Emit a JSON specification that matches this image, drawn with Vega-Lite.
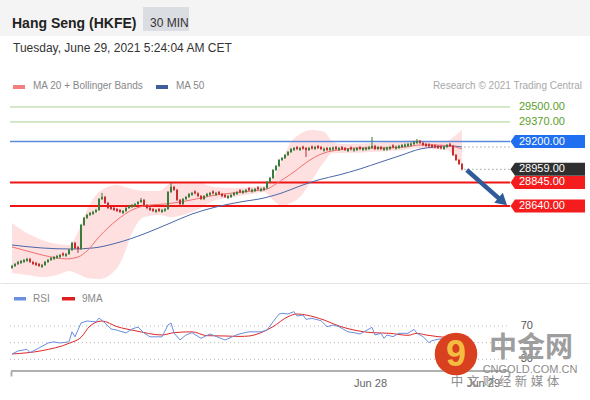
{
"$schema": "https://vega.github.io/schema/vega-lite/v6.json",
"padding": 0,
"background": "white",
"spacing": 0,
"config": {"view": {"stroke": null}, "concat": {"spacing": 0}, "font": "Liberation Sans", "scale": {"continuousPadding": 0}},
"datasets": {
"candles": [
{"i":0,"o":28104,"h":28130,"l":28095,"c":28120},{"i":1,"o":28120,"h":28146,"l":28111,"c":28137},{"i":2,"o":28137,"h":28164,"l":28128,"c":28155},{"i":3,"o":28146,"h":28172,"l":28137,"c":28163},{"i":4,"o":28155,"h":28181,"l":28146,"c":28172},{"i":5,"o":28164,"h":28190,"l":28155,"c":28181},{"i":6,"o":28181,"h":28190,"l":28146,"c":28155},{"i":7,"o":28155,"h":28164,"l":28128,"c":28137},{"i":8,"o":28146,"h":28155,"l":28120,"c":28129},{"i":9,"o":28137,"h":28146,"l":28111,"c":28120},
{"i":10,"o":28112,"h":28138,"l":28103,"c":28129},{"i":11,"o":28129,"h":28164,"l":28120,"c":28155},{"i":12,"o":28155,"h":28181,"l":28146,"c":28172},{"i":13,"o":28172,"h":28198,"l":28163,"c":28189},{"i":14,"o":28181,"h":28207,"l":28172,"c":28198},{"i":15,"o":28190,"h":28216,"l":28181,"c":28207},{"i":16,"o":28198,"h":28224,"l":28189,"c":28215},{"i":17,"o":28229,"h":28238,"l":28203,"c":28212},{"i":18,"o":28207,"h":28233,"l":28198,"c":28224},{"i":19,"o":28224,"h":28268,"l":28215,"c":28259},
{"i":20,"o":28259,"h":28330,"l":28250,"c":28320},{"i":21,"o":28320,"h":28329,"l":28267,"c":28276},{"i":22,"o":28284,"h":28293,"l":28233,"c":28267},{"i":23,"o":28267,"h":28485,"l":28258,"c":28476},{"i":24,"o":28476,"h":28546,"l":28467,"c":28537},{"i":25,"o":28537,"h":28572,"l":28528,"c":28563},{"i":26,"o":28563,"h":28589,"l":28554,"c":28580},{"i":27,"o":28572,"h":28598,"l":28563,"c":28589},{"i":28,"o":28589,"h":28615,"l":28580,"c":28606},{"i":29,"o":28606,"h":28710,"l":28597,"c":28701},
{"i":30,"o":28701,"h":28754,"l":28692,"c":28719},{"i":31,"o":28719,"h":28728,"l":28658,"c":28667},{"i":32,"o":28667,"h":28676,"l":28614,"c":28623},{"i":33,"o":28632,"h":28641,"l":28606,"c":28615},{"i":34,"o":28623,"h":28632,"l":28597,"c":28606},{"i":35,"o":28614,"h":28623,"l":28588,"c":28597},{"i":36,"o":28606,"h":28615,"l":28580,"c":28589},{"i":37,"o":28580,"h":28606,"l":28571,"c":28597},{"i":38,"o":28597,"h":28632,"l":28588,"c":28623},{"i":39,"o":28623,"h":28650,"l":28614,"c":28641},
{"i":40,"o":28632,"h":28658,"l":28623,"c":28649},{"i":41,"o":28641,"h":28667,"l":28632,"c":28658},{"i":42,"o":28658,"h":28684,"l":28649,"c":28675},{"i":43,"o":28675,"h":28710,"l":28666,"c":28693},{"i":44,"o":28693,"h":28702,"l":28640,"c":28649},{"i":45,"o":28649,"h":28658,"l":28614,"c":28623},{"i":46,"o":28623,"h":28632,"l":28597,"c":28606},{"i":47,"o":28614,"h":28623,"l":28588,"c":28597},{"i":48,"o":28589,"h":28615,"l":28580,"c":28606},{"i":49,"o":28614,"h":28623,"l":28588,"c":28597},
{"i":50,"o":28589,"h":28615,"l":28580,"c":28606},{"i":51,"o":28598,"h":28624,"l":28589,"c":28615},{"i":52,"o":28615,"h":28771,"l":28606,"c":28762},{"i":53,"o":28762,"h":28840,"l":28753,"c":28806},{"i":54,"o":28806,"h":28815,"l":28771,"c":28780},{"i":55,"o":28780,"h":28789,"l":28684,"c":28693},{"i":56,"o":28693,"h":28702,"l":28632,"c":28658},{"i":57,"o":28658,"h":28710,"l":28649,"c":28701},{"i":58,"o":28701,"h":28728,"l":28692,"c":28719},{"i":59,"o":28719,"h":28754,"l":28710,"c":28745},
{"i":60,"o":28737,"h":28763,"l":28728,"c":28754},{"i":61,"o":28767,"h":28776,"l":28741,"c":28750},{"i":62,"o":28750,"h":28759,"l":28718,"c":28727},{"i":63,"o":28727,"h":28736,"l":28692,"c":28701},{"i":64,"o":28701,"h":28736,"l":28692,"c":28727},{"i":65,"o":28727,"h":28754,"l":28718,"c":28745},{"i":66,"o":28737,"h":28763,"l":28728,"c":28754},{"i":67,"o":28767,"h":28776,"l":28741,"c":28750},{"i":68,"o":28737,"h":28763,"l":28728,"c":28754},{"i":69,"o":28762,"h":28771,"l":28736,"c":28745},
{"i":70,"o":28745,"h":28754,"l":28718,"c":28727},{"i":71,"o":28736,"h":28745,"l":28710,"c":28719},{"i":72,"o":28710,"h":28736,"l":28701,"c":28727},{"i":73,"o":28719,"h":28745,"l":28710,"c":28736},{"i":74,"o":28736,"h":28763,"l":28727,"c":28754},{"i":75,"o":28745,"h":28771,"l":28736,"c":28762},{"i":76,"o":28777,"h":28786,"l":28751,"c":28760},{"i":77,"o":28754,"h":28780,"l":28745,"c":28771},{"i":78,"o":28763,"h":28789,"l":28754,"c":28780},{"i":79,"o":28795,"h":28804,"l":28769,"c":28778},
{"i":80,"o":28765,"h":28791,"l":28756,"c":28782},{"i":81,"o":28771,"h":28797,"l":28762,"c":28788},{"i":82,"o":28803,"h":28812,"l":28777,"c":28786},{"i":83,"o":28773,"h":28799,"l":28764,"c":28790},{"i":84,"o":28780,"h":28806,"l":28771,"c":28797},{"i":85,"o":28797,"h":28858,"l":28788,"c":28849},{"i":86,"o":28849,"h":28893,"l":28840,"c":28884},{"i":87,"o":28884,"h":28962,"l":28875,"c":28953},{"i":88,"o":28953,"h":28997,"l":28944,"c":28988},{"i":89,"o":28988,"h":29049,"l":28979,"c":29040},
{"i":90,"o":29040,"h":29066,"l":29031,"c":29057},{"i":91,"o":29057,"h":29092,"l":29048,"c":29083},{"i":92,"o":29083,"h":29118,"l":29074,"c":29109},{"i":93,"o":29109,"h":29144,"l":29100,"c":29135},{"i":94,"o":29127,"h":29153,"l":29118,"c":29144},{"i":95,"o":29152,"h":29161,"l":29126,"c":29135},{"i":96,"o":29127,"h":29153,"l":29118,"c":29144},{"i":97,"o":29155,"h":29164,"l":29129,"c":29138},{"i":98,"o":29144,"h":29153,"l":29066,"c":29127},{"i":99,"o":29127,"h":29153,"l":29118,"c":29144},
{"i":100,"o":29157,"h":29166,"l":29131,"c":29140},{"i":101,"o":29136,"h":29162,"l":29127,"c":29153},{"i":102,"o":29161,"h":29170,"l":29135,"c":29144},{"i":103,"o":29152,"h":29161,"l":29126,"c":29135},{"i":104,"o":29121,"h":29147,"l":29112,"c":29138},{"i":105,"o":29144,"h":29153,"l":29118,"c":29127},{"i":106,"o":29127,"h":29153,"l":29118,"c":29144},{"i":107,"o":29130,"h":29156,"l":29121,"c":29147},{"i":108,"o":29152,"h":29161,"l":29126,"c":29135},{"i":109,"o":29127,"h":29153,"l":29118,"c":29144},
{"i":110,"o":29152,"h":29161,"l":29126,"c":29135},{"i":111,"o":29144,"h":29153,"l":29118,"c":29127},{"i":112,"o":29118,"h":29144,"l":29109,"c":29135},{"i":113,"o":29149,"h":29158,"l":29123,"c":29132},{"i":114,"o":29121,"h":29147,"l":29112,"c":29138},{"i":115,"o":29127,"h":29153,"l":29118,"c":29144},{"i":116,"o":29152,"h":29161,"l":29126,"c":29135},{"i":117,"o":29127,"h":29153,"l":29118,"c":29144},{"i":118,"o":29130,"h":29156,"l":29121,"c":29147},{"i":119,"o":29136,"h":29162,"l":29127,"c":29153},
{"i":120,"o":29145,"h":29240,"l":29136,"c":29162},{"i":121,"o":29162,"h":29171,"l":29126,"c":29135},{"i":122,"o":29135,"h":29162,"l":29126,"c":29153},{"i":123,"o":29153,"h":29162,"l":29126,"c":29135},{"i":124,"o":29127,"h":29153,"l":29118,"c":29144},{"i":125,"o":29130,"h":29156,"l":29121,"c":29147},{"i":126,"o":29136,"h":29162,"l":29127,"c":29153},{"i":127,"o":29167,"h":29176,"l":29141,"c":29150},{"i":128,"o":29139,"h":29165,"l":29130,"c":29156},{"i":129,"o":29145,"h":29171,"l":29136,"c":29162},
{"i":130,"o":29153,"h":29179,"l":29144,"c":29170},{"i":131,"o":29157,"h":29183,"l":29148,"c":29174},{"i":132,"o":29162,"h":29188,"l":29153,"c":29179},{"i":133,"o":29166,"h":29192,"l":29157,"c":29183},{"i":134,"o":29179,"h":29205,"l":29170,"c":29196},{"i":135,"o":29188,"h":29222,"l":29179,"c":29205},{"i":136,"o":29205,"h":29214,"l":29179,"c":29188},{"i":137,"o":29188,"h":29197,"l":29161,"c":29170},{"i":138,"o":29179,"h":29188,"l":29153,"c":29162},{"i":139,"o":29176,"h":29185,"l":29150,"c":29159},
{"i":140,"o":29170,"h":29179,"l":29144,"c":29153},{"i":141,"o":29167,"h":29176,"l":29141,"c":29150},{"i":142,"o":29161,"h":29170,"l":29135,"c":29144},{"i":143,"o":29158,"h":29167,"l":29132,"c":29141},{"i":144,"o":29136,"h":29162,"l":29127,"c":29153},{"i":145,"o":29153,"h":29179,"l":29144,"c":29170},{"i":146,"o":29179,"h":29188,"l":29153,"c":29162},{"i":147,"o":29162,"h":29171,"l":29074,"c":29083},{"i":148,"o":29083,"h":29092,"l":29031,"c":29040},{"i":149,"o":29040,"h":29049,"l":28996,"c":29005},
{"i":150,"o":29005,"h":29014,"l":28950,"c":28959}
],
"ma20": [{"i":0,"p":28285},{"i":5,"p":28250},{"i":10,"p":28215},{"i":15,"p":28189},{"i":18,"p":28181},{"i":22,"p":28198},{"i":25,"p":28250},{"i":29,"p":28372},{"i":35,"p":28519},{"i":40,"p":28606},{"i":46,"p":28649},{"i":51,"p":28658},{"i":56,"p":28675},{"i":63,"p":28710},{"i":68,"p":28736},{"i":74,"p":28754},{"i":80,"p":28771},{"i":85,"p":28788},{"i":88,"p":28832},{"i":91,"p":28884},{"i":94,"p":28936},{"i":97,"p":28997},{"i":101,"p":29066},{"i":105,"p":29109},{"i":109,"p":29127},{"i":115,"p":29144},{"i":123,"p":29144},{"i":131,"p":29153},{"i":136,"p":29170},{"i":141,"p":29170},{"i":146,"p":29162},{"i":150,"p":29135}],
"bb": [{"i":0,"u":28493,"d":28059},{"i":5,"u":28406,"d":28042},{"i":10,"u":28346,"d":28024},{"i":15,"u":28311,"d":28042},{"i":19,"u":28302,"d":28077},{"i":22,"u":28415,"d":28050},{"i":25,"u":28606,"d":28016},{"i":29,"u":28762,"d":28007},{"i":35,"u":28823,"d":28103},{"i":37,"u":28810,"d":28198},{"i":40,"u":28788,"d":28406},{"i":44,"u":28771,"d":28545},{"i":49,"u":28771,"d":28563},{"i":53,"u":28840,"d":28545},{"i":57,"u":28849,"d":28563},{"i":63,"u":28840,"d":28623},{"i":67,"u":28806,"d":28684},{"i":74,"u":28797,"d":28719},{"i":80,"u":28806,"d":28745},{"i":84,"u":28814,"d":28762},{"i":87,"u":28884,"d":28693},{"i":90,"u":29040,"d":28641},{"i":93,"u":29196,"d":28667},{"i":96,"u":29266,"d":28719},{"i":100,"u":29300,"d":28866},{"i":104,"u":29283,"d":29023},{"i":107,"u":29196,"d":29101},{"i":110,"u":29179,"d":29101},{"i":120,"u":29188,"d":29109},{"i":130,"u":29205,"d":29127},{"i":135,"u":29214,"d":29144},{"i":140,"u":29196,"d":29135},{"i":145,"u":29205,"d":29127},{"i":148,"u":29257,"d":29057},{"i":150,"u":29300,"d":28997}],
"ma50": [{"i":0,"p":28302},{"i":10,"p":28276},{"i":20,"p":28267},{"i":27,"p":28276},{"i":35,"p":28320},{"i":44,"p":28398},{"i":52,"p":28484},{"i":60,"p":28571},{"i":68,"p":28632},{"i":76,"p":28675},{"i":84,"p":28710},{"i":90,"p":28754},{"i":96,"p":28814},{"i":102,"p":28866},{"i":109,"p":28910},{"i":116,"p":28962},{"i":123,"p":29023},{"i":130,"p":29083},{"i":136,"p":29135},{"i":141,"p":29153},{"i":146,"p":29162},{"i":150,"p":29153}],
"levels": [{"p":29500,"lab":"29500.00","k":"res"},{"p":29370,"lab":"29370.00","k":"res"},{"p":29200,"lab":"29200.00","k":"pivot"},{"p":28959,"lab":"28959.00","k":"last"},{"p":28845,"lab":"28845.00","k":"sup"},{"p":28640,"lab":"28640.00","k":"sup"}],
"rsi": [{"i":0,"r":36.4},{"i":2,"r":40},{"i":5,"r":42},{"i":6,"r":38},{"i":9,"r":43.6},{"i":12,"r":49.6},{"i":14,"r":51},{"i":16,"r":49.6},{"i":19,"r":51},{"i":20,"r":63},{"i":21,"r":57},{"i":23,"r":73.6},{"i":25,"r":76},{"i":28,"r":75},{"i":29,"r":79.6},{"i":31,"r":73.6},{"i":33,"r":66.4},{"i":35,"r":65},{"i":38,"r":61.6},{"i":40,"r":66.4},{"i":42,"r":68.8},{"i":44,"r":61.6},{"i":46,"r":57},{"i":50,"r":57},{"i":52,"r":71.2},{"i":53,"r":73.6},{"i":54,"r":61.6},{"i":56,"r":53.2},{"i":58,"r":59.2},{"i":60,"r":62},{"i":63,"r":55.2},{"i":66,"r":60.4},{"i":71,"r":53.2},{"i":75,"r":59.5},{"i":77,"r":61.5},{"i":79,"r":63},{"i":83,"r":63},{"i":85,"r":65.2},{"i":87,"r":75},{"i":89,"r":84.4},{"i":90,"r":85.2},{"i":92,"r":84.4},{"i":94,"r":87.2},{"i":95,"r":82},{"i":97,"r":83.2},{"i":98,"r":78},{"i":100,"r":79.2},{"i":103,"r":76.4},{"i":105,"r":69.2},{"i":107,"r":71.2},{"i":109,"r":69.2},{"i":112,"r":63},{"i":114,"r":62},{"i":116,"r":60.4},{"i":118,"r":64.4},{"i":120,"r":68.4},{"i":121,"r":59.2},{"i":123,"r":61.2},{"i":124,"r":55.2},{"i":125,"r":59.2},{"i":127,"r":57.2},{"i":129,"r":61.2},{"i":132,"r":61.2},{"i":134,"r":66},{"i":135,"r":61.2},{"i":137,"r":57.2},{"i":139,"r":50},{"i":140,"r":52.4},{"i":142,"r":54},{"i":144,"r":55},{"i":146,"r":57},{"i":147,"r":42},{"i":148,"r":36},{"i":149,"r":33},{"i":150,"r":29}],
"rsima": [{"i":0,"r":36.4},{"i":10,"r":40.4},{"i":19,"r":49.2},{"i":23,"r":56.4},{"i":26,"r":70},{"i":30,"r":76},{"i":35,"r":69.2},{"i":41,"r":64.4},{"i":50,"r":59.2},{"i":54,"r":62},{"i":60,"r":63},{"i":65,"r":58.4},{"i":71,"r":58},{"i":76,"r":57.5},{"i":79,"r":58},{"i":83,"r":62},{"i":87,"r":69.2},{"i":92,"r":81.2},{"i":95,"r":84.4},{"i":98,"r":83.2},{"i":104,"r":77.2},{"i":109,"r":70},{"i":115,"r":64.4},{"i":120,"r":62},{"i":126,"r":61.2},{"i":132,"r":58.8},{"i":135,"r":61.2},{"i":138,"r":59.2},{"i":142,"r":57.2},{"i":145,"r":56},{"i":148,"r":52},{"i":150,"r":47}]
},
"vconcat": [
{
"width": 590, "height": 36,
"view": {"fill": "#f4f4f4", "stroke": null},
"data": {"values": [{}]},
"layer": [
{"mark": {"type": "rect", "x": 143, "x2": 189, "y": 7, "y2": 31, "fill": "#dadde1"}},
{"mark": {"type": "text", "x": 12, "y": 24, "text": "Hang Seng (HKFE)", "fontSize": 14, "fontWeight": "bold", "align": "left", "color": "#222222"}},
{"mark": {"type": "text", "x": 150, "y": 23, "text": "30 MIN", "fontSize": 12, "align": "left", "color": "#333333"}}
]
},
{
"width": 590, "height": 59,
"data": {"values": [{}]},
"layer": [
{"mark": {"type": "text", "x": 13, "y": 12, "baseline": "middle", "text": "Tuesday, June 29, 2021 5:24:04 AM CET", "fontSize": 12, "align": "left", "color": "#333333"}},
{"mark": {"type": "rect", "x": 13, "x2": 25, "y": 49, "y2": 53, "fill": "#f47f7f"}},
{"mark": {"type": "text", "x": 33, "y": 50, "baseline": "middle", "text": "MA 20 + Bollinger Bands", "fontSize": 10, "align": "left", "color": "#888888"}},
{"mark": {"type": "rect", "x": 156, "x2": 168, "y": 49, "y2": 53, "fill": "#3d5f9e"}},
{"mark": {"type": "text", "x": 176, "y": 50, "baseline": "middle", "text": "MA 50", "fontSize": 10, "align": "left", "color": "#888888"}},
{"mark": {"type": "text", "x": 582, "y": 50, "baseline": "middle", "text": "Research © 2021 Trading Central", "fontSize": 10, "align": "right", "color": "#a8a8a8"}}
]
},
{
"width": 590, "height": 188,
"resolve": {"axis": {"x": "independent", "y": "independent"}},
"layer": [
{"data": {"name": "bb"}, "mark": {"type": "area", "color": "#ffcccc", "opacity": 0.6, "interpolate": "monotone"},
 "encoding": {"x": {"field": "i", "type": "quantitative", "scale": {"domain": [-4, 192.667], "nice": false, "zero": false, "padding": 0}, "axis": {"labels": false, "ticks": false, "grid": false, "title": null, "domainColor": "#e4e4e4", "minExtent": 0, "maxExtent": 0}},
  "y": {"field": "u", "type": "quantitative", "scale": {"domain": [27972, 29604], "nice": false, "zero": false}, "axis": null}, "y2": {"field": "d"}}},
{"data": {"name": "levels"}, "transform": [{"filter": "datum.k == 'res'"}], "mark": {"type": "rule", "color": "#a9d18e", "strokeWidth": 1},
 "encoding": {"x": {"datum": -0.667, "type": "quantitative", "scale": {"domain": [-4, 192.667], "nice": false, "zero": false, "padding": 0}, "axis": null}, "x2": {"datum": 166},
  "y": {"field": "p", "type": "quantitative", "scale": {"domain": [27972, 29604], "nice": false, "zero": false}, "axis": null}}},
{"data": {"name": "levels"}, "transform": [{"filter": "datum.k == 'pivot'"}], "mark": {"type": "rule", "color": "#5b8bd8", "strokeWidth": 1.5},
 "encoding": {"x": {"datum": -0.667, "type": "quantitative", "scale": {"domain": [-4, 192.667], "nice": false, "zero": false, "padding": 0}, "axis": null}, "x2": {"datum": 166},
  "y": {"field": "p", "type": "quantitative", "scale": {"domain": [27972, 29604], "nice": false, "zero": false}, "axis": null}}},
{"data": {"name": "levels"}, "transform": [{"filter": "datum.k == 'sup'"}], "mark": {"type": "rule", "color": "#ee1515", "strokeWidth": 2},
 "encoding": {"x": {"datum": -0.667, "type": "quantitative", "scale": {"domain": [-4, 192.667], "nice": false, "zero": false, "padding": 0}, "axis": null}, "x2": {"datum": 166},
  "y": {"field": "p", "type": "quantitative", "scale": {"domain": [27972, 29604], "nice": false, "zero": false}, "axis": null}}},
{"data": {"values": [{"p": 28959}, {"p": 29153}]}, "mark": {"type": "rule", "color": "#777777", "strokeWidth": 1, "strokeDash": [1, 3]},
 "encoding": {"x": {"datum": 150.8, "type": "quantitative", "scale": {"domain": [-4, 192.667], "nice": false, "zero": false, "padding": 0}, "axis": null}, "x2": {"datum": 166},
  "y": {"field": "p", "type": "quantitative", "scale": {"domain": [27972, 29604], "nice": false, "zero": false}, "axis": null}}},
{"data": {"name": "ma50"}, "mark": {"type": "line", "color": "#4a68a8", "strokeWidth": 1, "interpolate": "monotone"},
 "encoding": {"x": {"field": "i", "type": "quantitative", "scale": {"domain": [-4, 192.667], "nice": false, "zero": false, "padding": 0}, "axis": null},
  "y": {"field": "p", "type": "quantitative", "scale": {"domain": [27972, 29604], "nice": false, "zero": false}, "axis": null}}},
{"data": {"name": "ma20"}, "mark": {"type": "line", "color": "#f07070", "strokeWidth": 1, "interpolate": "monotone"},
 "encoding": {"x": {"field": "i", "type": "quantitative", "scale": {"domain": [-4, 192.667], "nice": false, "zero": false, "padding": 0}, "axis": null},
  "y": {"field": "p", "type": "quantitative", "scale": {"domain": [27972, 29604], "nice": false, "zero": false}, "axis": null}}},
{"data": {"name": "candles"}, "mark": {"type": "rule", "strokeWidth": 1},
 "encoding": {"x": {"field": "i", "type": "quantitative", "scale": {"domain": [-4, 192.667], "nice": false, "zero": false, "padding": 0}, "axis": null},
  "y": {"field": "l", "type": "quantitative", "scale": {"domain": [27972, 29604], "nice": false, "zero": false}, "axis": null}, "y2": {"field": "h"},
  "color": {"condition": {"test": "datum.c >= datum.o", "value": "#3a7a3a"}, "value": "#b83030"}}},
{"data": {"name": "candles"}, "mark": {"type": "bar", "width": 2},
 "encoding": {"x": {"field": "i", "type": "quantitative", "scale": {"domain": [-4, 192.667], "nice": false, "zero": false, "padding": 0}, "axis": null},
  "y": {"field": "o", "type": "quantitative", "scale": {"domain": [27972, 29604], "nice": false, "zero": false}, "axis": null}, "y2": {"field": "c"},
  "color": {"condition": {"test": "datum.c >= datum.o", "value": "#3a7d3a"}, "value": "#cc2b2b"}}},
{"data": {"values": [{"i": 151.6, "p": 28953, "i2": 162.3, "p2": 28707}]}, "mark": {"type": "rule", "color": "#2f5c99", "strokeWidth": 4.5},
 "encoding": {"x": {"field": "i", "type": "quantitative", "scale": {"domain": [-4, 192.667], "nice": false, "zero": false, "padding": 0}, "axis": null}, "x2": {"field": "i2"},
  "y": {"field": "p", "type": "quantitative", "scale": {"domain": [27972, 29604], "nice": false, "zero": false}, "axis": null}, "y2": {"field": "p2"}}},
{"data": {"values": [{"i": 163.6, "p": 28680}]}, "mark": {"type": "point", "shape": "triangle-right", "filled": true, "size": 170, "angle": 41, "color": "#2f5c99", "opacity": 1},
 "encoding": {"x": {"field": "i", "type": "quantitative", "scale": {"domain": [-4, 192.667], "nice": false, "zero": false, "padding": 0}, "axis": null},
  "y": {"field": "p", "type": "quantitative", "scale": {"domain": [27972, 29604], "nice": false, "zero": false}, "axis": null}}},
{"data": {"name": "levels"}, "transform": [{"filter": "datum.k != 'res'"}], "mark": {"type": "point", "shape": "M0,0L0.69,-1L11.46,-1L11.46,1L0.69,1Z", "filled": true, "size": 169, "opacity": 1, "strokeWidth": 0},
 "encoding": {"x": {"datum": 166.17, "type": "quantitative", "scale": {"domain": [-4, 192.667], "nice": false, "zero": false, "padding": 0}, "axis": null},
  "y": {"field": "p", "type": "quantitative", "scale": {"domain": [27972, 29604], "nice": false, "zero": false}, "axis": null},
  "color": {"condition": [{"test": "datum.k == 'pivot'", "value": "#1f6ff0"}, {"test": "datum.k == 'last'", "value": "#2f2f2f"}], "value": "#f41c1c"}}},
{"data": {"name": "levels"}, "mark": {"type": "text", "align": "left", "baseline": "middle", "fontSize": 11},
 "encoding": {"x": {"datum": 169, "type": "quantitative", "scale": {"domain": [-4, 192.667], "nice": false, "zero": false, "padding": 0}, "axis": null},
  "y": {"field": "p", "type": "quantitative", "scale": {"domain": [27972, 29604], "nice": false, "zero": false}, "axis": null},
  "text": {"field": "lab"},
  "color": {"condition": {"test": "datum.k == 'res'", "value": "#5b9e2a"}, "value": "#ffffff"}}}
]
},
{
"width": 590, "height": 88,
"resolve": {"axis": {"x": "independent", "y": "independent"}},
"layer": [
{"data": {"values": [{"v": 70}, {"v": 50}, {"v": 30}]}, "mark": {"type": "rule", "color": "#b8b8b8", "strokeWidth": 1, "strokeDash": [1, 3]},
 "encoding": {"x": {"datum": -0.667, "type": "quantitative", "scale": {"domain": [-4, 192.667], "nice": false, "zero": false, "padding": 0}, "axis": null}, "x2": {"datum": 166},
  "y": {"field": "v", "type": "quantitative", "scale": {"domain": [15.95, 121.65], "nice": false, "zero": false}, "axis": null}}},
{"data": {"values": [{}]}, "mark": {"type": "rule", "color": "#b0b0b0", "strokeWidth": 2},
 "encoding": {"x": {"datum": -0.333, "type": "quantitative", "scale": {"domain": [-4, 192.667], "nice": false, "zero": false, "padding": 0}, "axis": null}, "x2": {"datum": 165.667},
  "y": {"datum": 15.95, "type": "quantitative", "scale": {"domain": [15.95, 121.65], "nice": false, "zero": false}, "axis": null}}},
{"data": {"name": "rsima"}, "mark": {"type": "line", "color": "#e02828", "strokeWidth": 1, "interpolate": "monotone"},
 "encoding": {"x": {"field": "i", "type": "quantitative", "scale": {"domain": [-4, 192.667], "nice": false, "zero": false, "padding": 0}, "axis": null},
  "y": {"field": "r", "type": "quantitative", "scale": {"domain": [15.95, 121.65], "nice": false, "zero": false}, "axis": null}}},
{"data": {"name": "rsi"}, "mark": {"type": "line", "color": "#6a8ee0", "strokeWidth": 1},
 "encoding": {"x": {"field": "i", "type": "quantitative", "scale": {"domain": [-4, 192.667], "nice": false, "zero": false, "padding": 0},
   "axis": {"orient": "bottom", "domain": false, "grid": false, "title": null, "values": [-0.333, 119.33, 157, 165.667], "tickSize": 5, "tickWidth": 2, "tickColor": "#b0b0b0",
    "tickOpacity": {"condition": {"test": "datum.value < 0 || datum.value > 160", "value": 1}, "value": 0},
    "labelExpr": "datum.value > 100 && datum.value < 130 ? 'Jun 28' : (datum.value > 150 && datum.value < 160 ? 'Jun 29' : '')",
    "labelFontSize": 11, "labelColor": "#666666", "labelPadding": 1, "labelOverlap": false, "labelFlush": false, "labelBound": false}},
  "y": {"field": "r", "type": "quantitative", "scale": {"domain": [15.95, 121.65], "nice": false, "zero": false}, "axis": null}}},
{"data": {"values": [{"v": 70, "lab": "70"}, {"v": 30, "lab": "30"}]}, "mark": {"type": "text", "align": "center", "baseline": "middle", "fontSize": 11, "color": "#555555"},
 "encoding": {"x": {"datum": 171.6, "type": "quantitative", "scale": {"domain": [-4, 192.667], "nice": false, "zero": false, "padding": 0}, "axis": null},
  "y": {"field": "v", "type": "quantitative", "scale": {"domain": [15.95, 121.65], "nice": false, "zero": false}, "axis": null},
  "text": {"field": "lab"}}},
{"data": {"values": [{}]}, "mark": {"type": "rect", "x": 14, "x2": 26, "y": 14, "y2": 17.5, "fill": "#6a8ee0"}},
{"data": {"values": [{}]}, "mark": {"type": "text", "x": 33, "y": 15.5, "baseline": "middle", "align": "left", "text": "RSI", "fontSize": 10, "color": "#888888"}},
{"data": {"values": [{}]}, "mark": {"type": "rect", "x": 62, "x2": 75, "y": 14, "y2": 17.5, "fill": "#e02020"}},
{"data": {"values": [{}]}, "mark": {"type": "text", "x": 82, "y": 15.5, "baseline": "middle", "align": "left", "text": "9MA", "fontSize": 10, "color": "#888888"}},
{"data": {"values": [{}]}, "mark": {"type": "point", "x": 456, "y": 71, "shape": "circle", "size": 1810, "filled": true, "color": "#d9401f", "opacity": 1}},
{"data": {"values": [{}]}, "mark": {"type": "text", "x": 456, "y": 72, "baseline": "middle", "align": "center", "text": "9", "fontSize": 36, "fontWeight": "bold", "color": "#f5bd40"}},
{"data": {"values": [{}]}, "mark": {"type": "text", "x": 531, "y": 66, "baseline": "middle", "align": "center", "text": "中金网", "font": "Noto Sans CJK SC", "fontSize": 28, "fontWeight": "bold", "color": "#9e9e9e"}},
{"data": {"values": [{}]}, "mark": {"type": "text", "x": 530, "y": 87, "baseline": "middle", "align": "center", "text": "CNGOLD.COM.CN", "fontSize": 11, "color": "#8c8c8c"}},
{"data": {"values": [{}]}, "mark": {"type": "text", "x": 505, "y": 99, "baseline": "middle", "align": "center", "text": "中   文   财   经   新   媒   体", "font": "Liberation Sans, Noto Sans CJK SC", "fontSize": 12.5, "color": "#8f8f8f"}}
]
}
]
}
